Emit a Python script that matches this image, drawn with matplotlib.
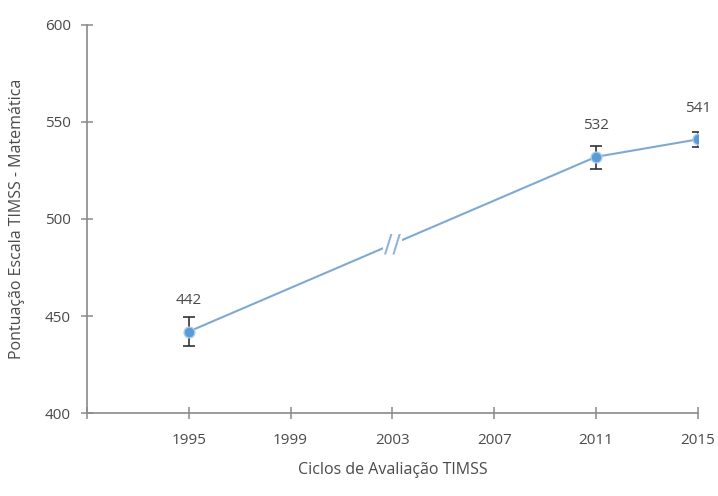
import matplotlib
matplotlib.use('Agg')
import matplotlib.pyplot as plt

# TIMSS mathematics scores by cycle
years = [1995, 2011, 2015]
scores = [442, 532, 541]
err_low = [7.5, 6.5, 4.0]
err_high = [7.5, 5.5, 4.0]
score_labels = ['442', '532', '541']

tick_years = [1991, 1995, 1999, 2003, 2007, 2011, 2015]
tick_labels = ['', '1995', '1999', '2003', '2007', '2011', '2015']
y_ticks = [400, 450, 500, 550, 600]

break_year = 2003
break_score = 487

plt.rcParams['font.family'] = ['Open Sans', 'DejaVu Sans']

text_col = '#4a4a4a'
axis_col = '#8a8a8a'
line_col = '#7fa9d3'

fig = plt.figure(figsize=(7.18, 4.96), dpi=100)
ax = fig.add_axes([0.121, 0.167, 0.851, 0.783])

ax.plot(years[:2], scores[:2], color=line_col, lw=1.5, zorder=2)
ax.plot(years[1:], scores[1:], color=line_col, lw=1.5, zorder=2)

ax.errorbar(years, scores, yerr=[err_low, err_high], fmt='none',
            ecolor='#333333', elinewidth=1.2, capsize=4, capthick=1.2, zorder=3)
ax.scatter(years, scores, s=60, color='#5b9bd5', edgecolor='#a8cbe9',
           linewidth=1.0, zorder=4)

# break marker on the line
ax.text(break_year, break_score, '//', color='#8fb2d6', fontsize=18,
        family='DejaVu Sans', ha='center', va='center', zorder=5,
        bbox=dict(facecolor='white', edgecolor='none', pad=1))

for x, y, lab in zip(years, scores, score_labels):
    ax.annotate(lab, (x, y), xytext=(0, 17), textcoords='offset points',
                ha='center', va='bottom', fontsize=11, color=text_col)

ax.set_xlim(1991, 2015)
ax.set_ylim(400, 600)
ax.set_xticks(tick_years)
ax.set_xticklabels(tick_labels)
ax.set_yticks(y_ticks)

for s in ['top', 'right']:
    ax.spines[s].set_visible(False)
for s in ['left', 'bottom']:
    ax.spines[s].set_color(axis_col)
    ax.spines[s].set_linewidth(1.2)

ax.tick_params(direction='inout', length=9, width=1.1, color=axis_col,
               labelsize=11, labelcolor=text_col)
ax.tick_params(axis='x', pad=10)
ax.tick_params(axis='y', pad=7)

ax.set_ylabel('Pontuação Escala TIMSS - Matemática', fontsize=11.5,
              color=text_col, labelpad=14)
ax.set_xlabel('Ciclos de Avaliação TIMSS', fontsize=11.5, color=text_col,
              labelpad=10)

fig.savefig('out.png', dpi=100)
